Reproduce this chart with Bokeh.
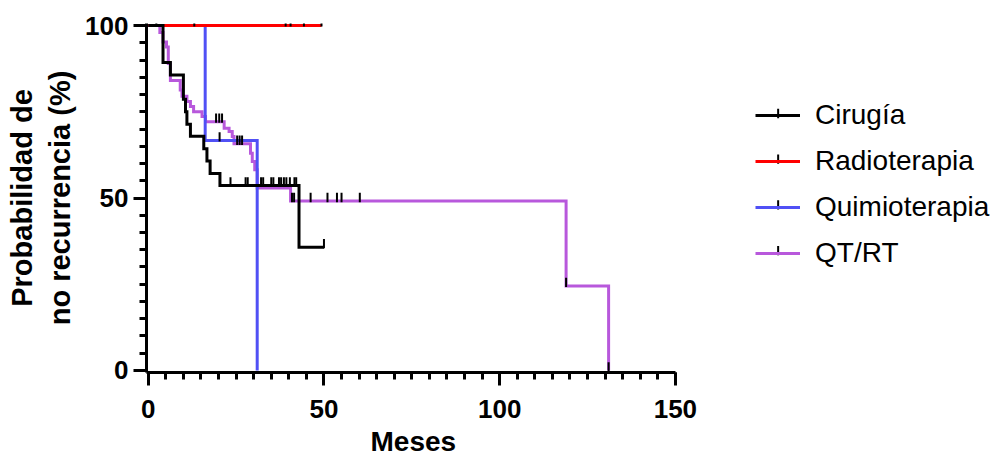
import numpy as np
from bokeh.plotting import figure
from bokeh.models import Range1d, FixedTicker, Legend, LegendItem, Title
from bokeh.embed import file_html
from bokeh.resources import INLINE

# ---- data (months, % without recurrence) ----
groups = ["Cirugía", "Radioterapia", "Quimioterapia", "QT/RT"]

cir_t = [0, 4.2, 6.3, 10.0, 10.6, 11.0, 12.0, 15.8, 16.7, 17.6, 20.4, 42.9, 50.0]
cir_s = [100, 89.3, 85.7, 78.6, 75.0, 71.4, 67.9, 64.3, 60.7, 57.1, 53.6, 35.7, 35.7]
cir_cens = [2.3, 23.4, 27.7, 28.3, 32.1, 32.7, 35.0, 35.6, 37.2, 37.8, 38.6, 39.3,
            40.3, 41.6, 42.1, 50.0]

rad_t = [0, 49.3]
rad_s = [100, 100]
rad_cens = [13.1, 39.1, 40.5, 44.3, 49.3]

qui_t = [0, 16.2, 31.0]
qui_s = [100, 66.7, 0]
qui_cens = [20.3]

qtrt_t = [0, 3.3, 4.2, 5.2, 5.7, 6.3, 9.1, 9.6, 11.0, 12.0, 12.9, 15.3, 16.3, 21.6,
          23.0, 23.9, 24.4, 29.1, 29.6, 30.3, 31.0, 40.5, 118.9, 131.0]
qtrt_s = [100, 98.0, 95.2, 93.8, 89.0, 84.1, 81.3, 79.5, 78.0, 76.5, 75.0, 73.6, 72.1,
          70.2, 69.3, 67.8, 65.7, 63.0, 60.6, 58.2, 52.9, 49.1, 24.5, 0]
qtrt_cens = [19.3, 20.2, 21.0, 25.3, 26.0, 26.7, 40.9, 41.5, 46.2, 51.0, 53.7, 55.0,
             60.2, 118.9, 131.0]

x_ticks = [0, 50, 100, 150]
y_ticks = [0, 50, 100]
x_max = 150

colors = ["#000000", "#ff0000", "#5050f5", "#b858dc"]
FONT = "Liberation Sans"

# ---- layout (pixels) ----
W, H = 993, 460
frame_left, frame_top, frame_bottom = 146.2, 22.9, 374.1
y0_range, y1_range = -0.6, 100.6
px_per_x = 527.0 / 150.0
px_per_y = (frame_bottom - frame_top) / (y1_range - y0_range)
x0_range = -0.5
x_end = x0_range + (W - frame_left) / px_per_x

p = figure(width=W, height=H, x_range=Range1d(x0_range, x_end), y_range=Range1d(y0_range, y1_range),
           output_backend="svg", toolbar_location=None,
           min_border_left=146, min_border_right=0, min_border_top=23, min_border_bottom=86)
p.grid.visible = False
p.outline_line_color = None
p.background_fill_color = "white"
p.border_fill_color = "white"

series = [(cir_t, cir_s, cir_cens), (rad_t, rad_s, rad_cens),
          (qui_t, qui_s, qui_cens), (qtrt_t, qtrt_s, qtrt_cens)]

step_r = {}
# draw order: QT/RT, Quimioterapia, Radioterapia, Cirugía (black on top)
for idx in [3, 2, 1, 0]:
    t, s, _ = series[idx]
    step_r[idx] = p.step(t, s, mode="after", line_color=colors[idx], line_width=3,
                         line_join="miter")

tick_len = 2.4
for idx in [3, 2, 1, 0]:
    t, s, c = series[idx]
    ta = np.array(t)
    sa = np.array(s)
    ci = np.array(c)
    lvl = sa[np.searchsorted(ta, ci, side="right") - 1]
    p.segment(x0=ci, y0=lvl - 0.3, x1=ci, y1=lvl + tick_len, line_color="black", line_width=2)

# ---- legend ----
leg_x, leg_y = 609, 103           # px offset of legend from frame's bottom-left
glyph_w, row_h, row_gap = 45, 32, 14
items = [LegendItem(label=name, renderers=[step_r[idx]]) for idx, name in enumerate(groups)]
legend = Legend(items=items, location=(leg_x, leg_y), orientation="vertical")
legend.glyph_width = glyph_w
legend.glyph_height = row_h
legend.label_height = row_h
legend.label_standoff = 15
legend.spacing = row_gap
legend.padding = 0
legend.margin = 0
legend.border_line_color = None
legend.background_fill_alpha = 0
legend.label_text_font = FONT
legend.label_text_font_size = "28px"
legend.label_text_color = "black"
p.add_layout(legend)

# censor symbol in the middle of each legend line (pixel position -> data units)
n = len(groups)
leg_top_px = frame_bottom - leg_y - (n * row_h + (n - 1) * row_gap)
cx_px = frame_left + leg_x + glyph_w / 2.0
row_px = np.array([leg_top_px + row_h / 2.0 + i * (row_h + row_gap) for i in range(n)])
cx = x0_range + (cx_px - frame_left) / px_per_x
ry = y0_range + (frame_bottom - row_px) / px_per_y
p.segment(x0=[cx] * n, y0=ry - 0.3, x1=[cx] * n, y1=ry + tick_len, line_color="black", line_width=2)

for ax in [p.xaxis[0], p.yaxis[0]]:
    ax.axis_line_width = 3
    ax.axis_line_color = "black"
    ax.major_tick_line_width = 3
    ax.minor_tick_line_width = 3
    ax.major_tick_in = 0
    ax.major_tick_out = 13
    ax.minor_tick_in = 0
    ax.minor_tick_out = 7
    ax.major_label_text_font = FONT
    ax.major_label_text_font_style = "bold"
    ax.major_label_text_font_size = "26px"
    ax.major_label_text_color = "black"
    ax.axis_label_text_font = FONT
    ax.axis_label_text_font_style = "bold"
    ax.axis_label_text_color = "black"

p.xaxis.bounds = (x0_range, x_max)
p.xaxis.ticker = FixedTicker(ticks=x_ticks, minor_ticks=list(range(0, x_max + 1, 5)))
p.yaxis.ticker = FixedTicker(ticks=y_ticks, minor_ticks=list(range(0, 101, 5)))
p.xaxis.major_label_standoff = 14
p.yaxis.axis_label = "Probabilidad de\nno recurrencia (%)"
p.yaxis.axis_label_text_font_size = "29px"
p.yaxis.major_label_standoff = 5
p.yaxis.axis_label_standoff = 6

# x-axis title centred under the 0..150 axis
xt = Title(text="Meses", align="left", offset=224, standoff=7,
           text_font=FONT, text_font_style="bold", text_font_size="28px", text_color="black")
p.add_layout(xt, "below")

open("out.html", "w").write(file_html(p, INLINE))
